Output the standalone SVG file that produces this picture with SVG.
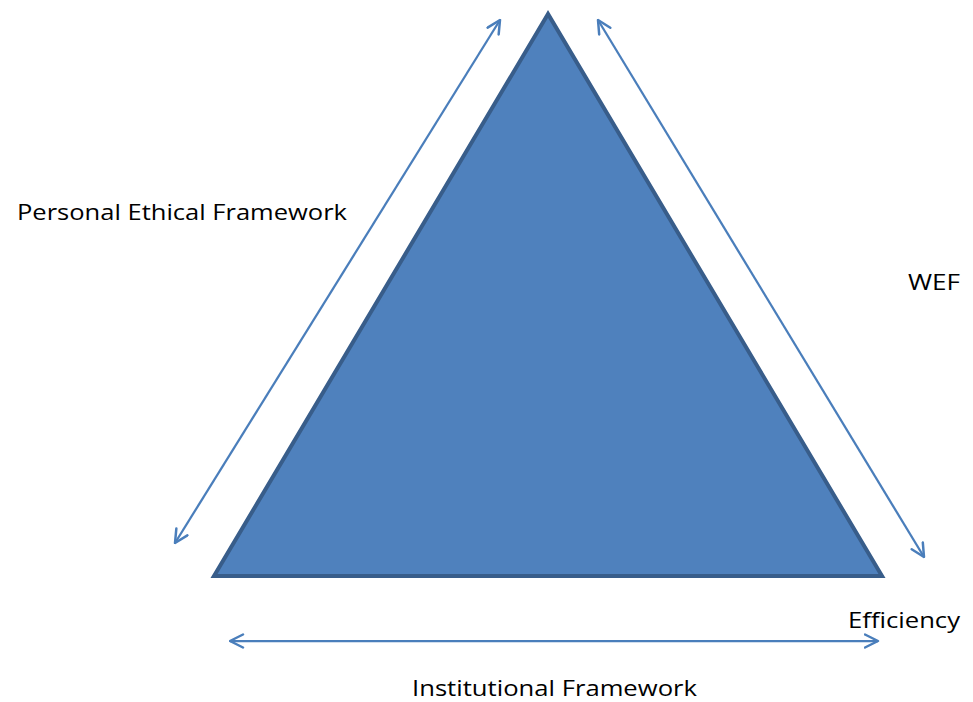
<svg xmlns="http://www.w3.org/2000/svg" width="973" height="702" viewBox="0 0 973 702">
  <style>
    .lbl { font-family: "Open Sans", "Liberation Sans", sans-serif; font-size: 22px; fill: #000; }
    .conn { stroke: #4A7EBB; stroke-width: 2.25; fill: none; marker-start: url(#head); marker-end: url(#head); }
  </style>
  <defs>
    <marker id="head" viewBox="0 0 16 16" refX="14.5" refY="8" markerWidth="16" markerHeight="16" markerUnits="userSpaceOnUse" orient="auto-start-reverse">
      <path d="M1.5,1.5 L14.5,8 L1.5,14.5" fill="none" stroke="#4A7EBB" stroke-width="2.5" stroke-linecap="round" stroke-linejoin="round"/>
    </marker>
  </defs>
  <rect width="973" height="702" fill="#fff"/>

  <!-- triangle -->
  <g id="triangle">
    <polygon points="548,14 214,576 882,576" fill="#4F81BD" stroke="#385D8A" stroke-width="4" stroke-linejoin="miter"/>
  </g>

  <!-- double-headed connectors along the sides -->
  <g id="connectors">
    <line class="conn" x1="175" y1="543" x2="500" y2="20"/>
    <line class="conn" x1="598" y1="20" x2="924" y2="557"/>
    <line class="conn" x1="230" y1="641" x2="878" y2="641"/>
  </g>

  <g id="label-personal">
    <text class="lbl" x="17" y="220" textLength="330" lengthAdjust="spacingAndGlyphs">Personal Ethical Framework</text>
  </g>
  <g id="label-wef">
    <text class="lbl" x="908" y="290" textLength="52" lengthAdjust="spacingAndGlyphs">WEF</text>
  </g>
  <g id="label-efficiency">
    <text class="lbl" x="848" y="628" textLength="112" lengthAdjust="spacingAndGlyphs">Efficiency</text>
  </g>
  <g id="label-institutional">
    <text class="lbl" x="412" y="696" textLength="285" lengthAdjust="spacingAndGlyphs">Institutional Framework</text>
  </g>
</svg>
